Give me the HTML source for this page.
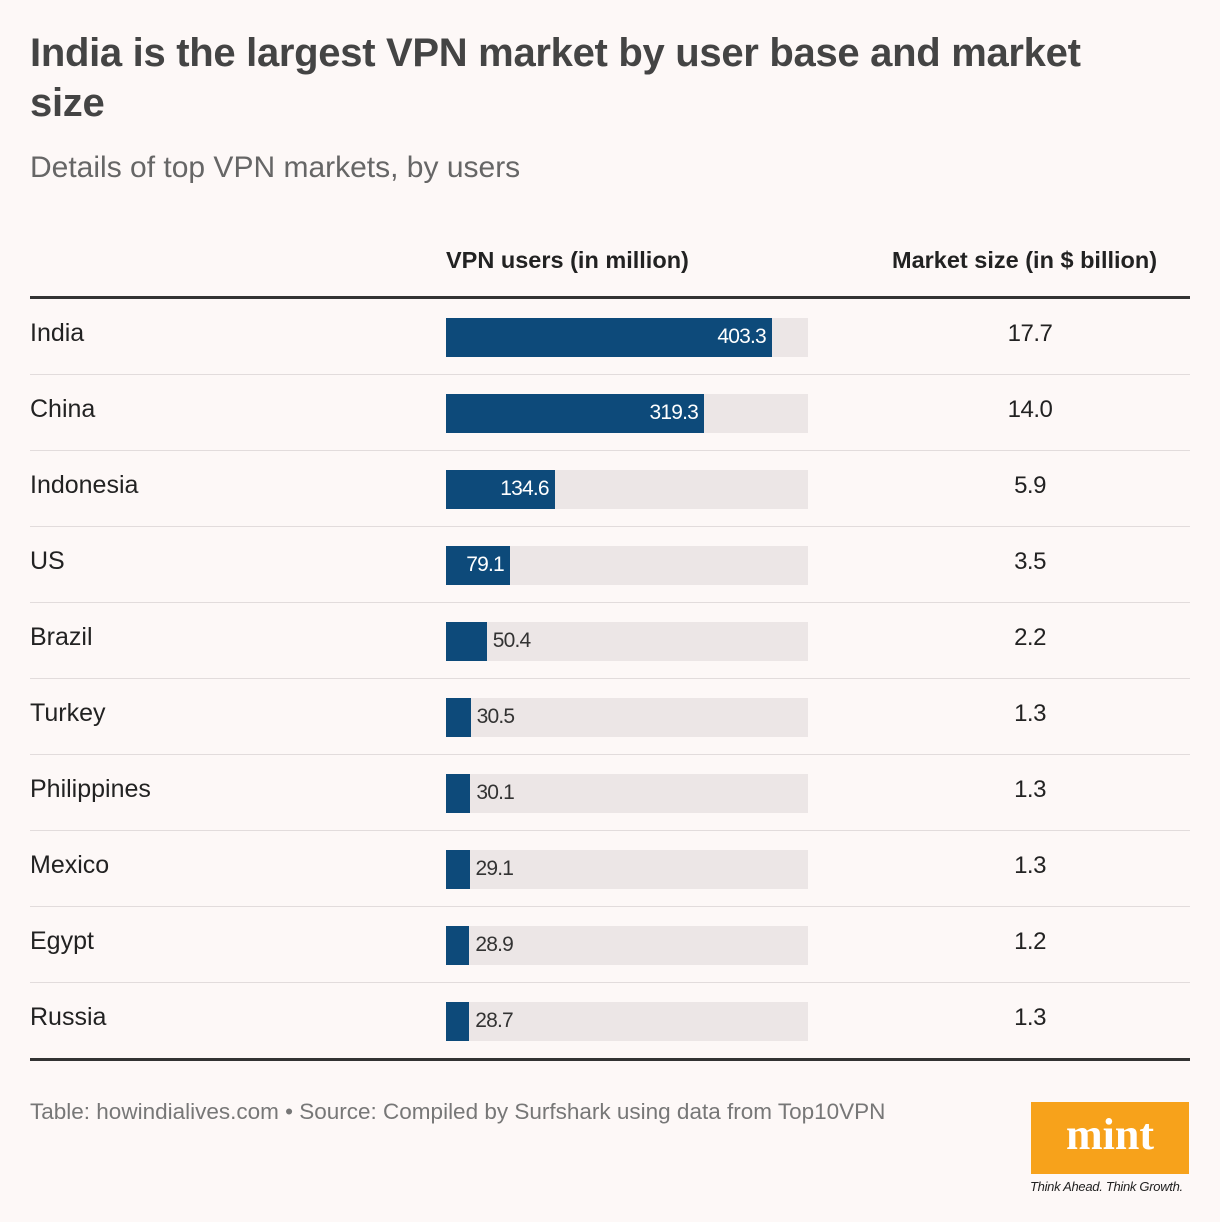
<!DOCTYPE html>
<html><head><meta charset="utf-8"><style>
body{margin:0;width:1220px;height:1222px;background:#fdf8f7;font-family:"Liberation Sans",sans-serif;position:relative;overflow:hidden;color:#222}
.abs{position:absolute}
</style></head><body>
<div class="abs" style="left:30px;top:28px;width:1110px;font-size:40px;font-weight:bold;color:#444;line-height:50px;letter-spacing:-0.3px">India is the largest VPN market by user base and market size</div>
<div class="abs" style="left:30px;top:151px;font-size:30px;color:#666">Details of top VPN markets, by users</div>
<div class="abs" style="left:446px;top:247px;font-size:23.5px;font-weight:bold;color:#222">VPN users (in million)</div>
<div class="abs" style="left:892px;top:247px;font-size:23.5px;font-weight:bold;color:#222">Market size (in $ billion)</div>
<div class="abs" style="left:30px;top:296px;width:1160px;height:3px;background:#333"></div>
<div id="rows"></div>
<div class="abs" style="left:30px;top:1058px;width:1160px;height:3px;background:#333"></div>
<div class="abs" style="left:30px;top:1099px;font-size:22.5px;color:#777">Table: howindialives.com • Source: Compiled by Surfshark using data from Top10VPN</div>
<div class="abs" style="left:1031px;top:1102px;width:158px;height:72px;background:#f7a21b;color:#fff;font-family:'Liberation Serif',serif;font-weight:bold;font-size:44px;text-align:center;line-height:66px">mint</div>
<div class="abs" style="left:1030px;top:1179px;font-size:13px;font-style:italic;color:#222;letter-spacing:-0.3px">Think Ahead. Think Growth.</div>
<script>
const countries=["India","China","Indonesia","US","Brazil","Turkey","Philippines","Mexico","Egypt","Russia"];
const users=[403.3,319.3,134.6,79.1,50.4,30.5,30.1,29.1,28.9,28.7];
const market=["17.7","14.0","5.9","3.5","2.2","1.3","1.3","1.3","1.2","1.3"];
const x0=446,trackW=362,maxV=448;
const xs=v=>v/maxV*trackW;
const root=document.getElementById('rows');
countries.forEach((c,i)=>{
  const top=299+i*76;
  const row=document.createElement('div');
  
  
  row.className='abs';row.style.cssText=`left:0;top:${top}px;width:1220px;height:76px`;
  const lab=document.createElement('div');
  
  
  lab.className='abs';lab.textContent=c;lab.style.cssText='left:30px;top:20px;font-size:25px;color:#222';
  row.appendChild(lab);
  const track=document.createElement('div');
  
  
  track.className='abs';track.style.cssText=`left:${x0}px;top:19px;width:${trackW}px;height:39px;background:#ece6e6`;
  row.appendChild(track);
  const w=xs(users[i]);
  const bar=document.createElement('div');
  
  
  bar.className='abs';bar.style.cssText=`left:${x0}px;top:19px;width:${w}px;height:39px;background:#0d4a7a`;
  row.appendChild(bar);
  const val=document.createElement('div');
  
  
  val.className='abs';val.textContent=users[i];
  if(w>55){val.style.cssText=`left:${x0}px;width:${w-6}px;text-align:right;top:26px;font-size:21px;color:#fff;letter-spacing:-0.8px`;}
  else{val.style.cssText=`left:${x0+w+6}px;top:26px;font-size:21px;color:#333;letter-spacing:-0.8px`;}
  row.appendChild(val);
  const m=document.createElement('div');
  
  
  m.className='abs';m.textContent=market[i];m.style.cssText='left:960px;width:140px;text-align:center;top:21px;font-size:24px;color:#222;letter-spacing:-0.5px';
  row.appendChild(m);
  if(i<countries.length-1){
    const s=document.createElement('div');
    
    
    s.className='abs';s.style.cssText='left:30px;top:75px;width:1160px;height:1px;background:#e2dcdc';
    row.appendChild(s);
  }
  root.appendChild(row);
});
</script>
</body></html>
